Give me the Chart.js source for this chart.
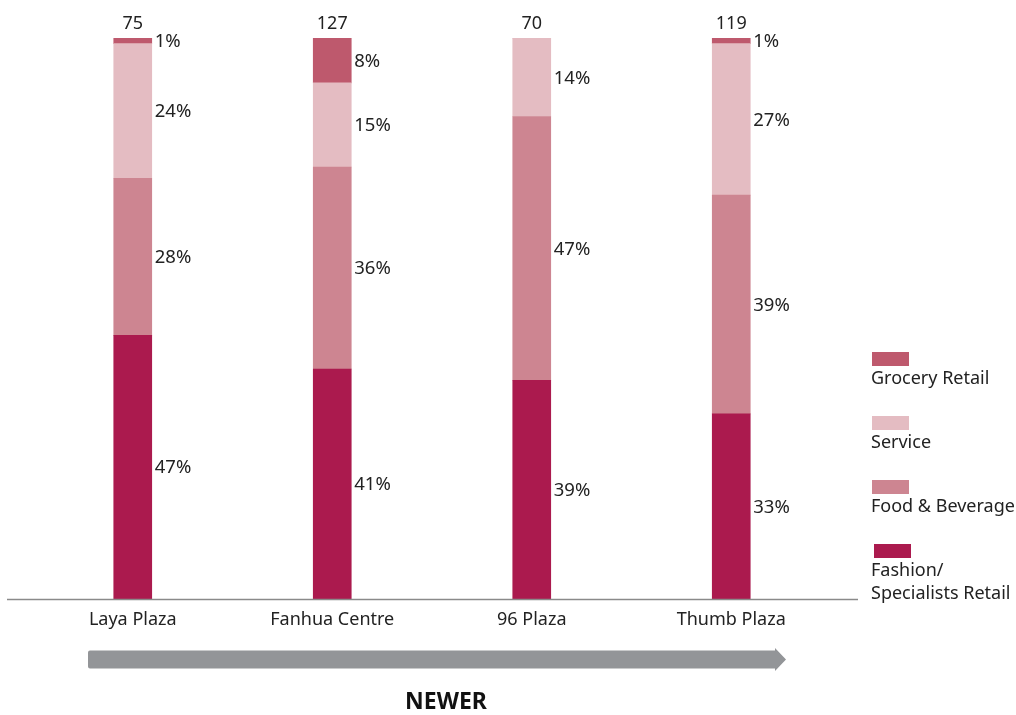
<!DOCTYPE html>
<html>
<head>
<meta charset="utf-8">
<script src="https://cdn.jsdelivr.net/npm/chart.js@4.4.1/dist/chart.umd.min.js"></script>
<style>
  html, body { margin: 0; padding: 0; background: #fff; }
  #wrap { width: 1016px; height: 715px; }
</style>
</head>
<body>
<div id="wrap"><canvas id="myChart-Mix"></canvas></div>
<script>
const malls = ['Laya Plaza', 'Fanhua Centre', '96 Plaza', 'Thumb Plaza'];
const totals = [75, 127, 70, 119];
const fashion = [47, 41, 39, 33];
const foodBev = [28, 36, 47, 39];
const service = [24, 15, 14, 27];
const grocery = [1, 8, 0, 1];

const FONT = '"Noto Sans", "Open Sans", sans-serif';
const TEXT = '#222';

// labels, totals, axis line, arrow and legend
const annotate = {
  id: 'annotate',
  afterDatasetsDraw(chart) {
    const ctx = chart.ctx;
    const x = chart.scales.x;
    const area = chart.chartArea;
    ctx.save();
    ctx.font = '18.5px ' + FONT;
    ctx.fillStyle = TEXT;
    ctx.textBaseline = 'middle';

    // segment percentages
    chart.data.datasets.forEach((ds, i) => {
      const meta = chart.getDatasetMeta(i);
      meta.data.forEach((bar, j) => {
        const v = ds.data[j];
        if (!v) return;
        const yMid = (bar.y + bar.base) / 2;
        ctx.textAlign = 'left';
        ctx.fillText(v + '%', bar.x + bar.width / 2 + 3, yMid + 1);
      });
    });

    // totals on top
    ctx.font = '18px ' + FONT;
    const topMeta = chart.getDatasetMeta(chart.data.datasets.length - 1);
    topMeta.data.forEach((bar, j) => {
      ctx.textAlign = 'center';
      ctx.textBaseline = 'alphabetic';
      ctx.fillText(String(totals[j]), bar.x, area.top - 9);
    });

    // category labels
    ctx.textBaseline = 'middle';
    ctx.textAlign = 'center';
    malls.forEach((m, j) => {
      ctx.fillText(m, x.getPixelForTick(j), area.bottom + 21);
    });

    // baseline
    ctx.strokeStyle = '#8a8a8a';
    ctx.lineWidth = 1.5;
    ctx.beginPath();
    ctx.moveTo(7, area.bottom + 0.5);
    ctx.lineTo(858, area.bottom + 0.5);
    ctx.stroke();

    // NEWER arrow
    const ay = 659.5, half = 9;
    ctx.fillStyle = '#939598';
    ctx.beginPath();
    ctx.moveTo(90, ay - half);
    ctx.lineTo(775, ay - half);
    ctx.lineTo(775, ay - half - 2.5);
    ctx.lineTo(786, ay);
    ctx.lineTo(775, ay + half + 2.5);
    ctx.lineTo(775, ay + half);
    ctx.lineTo(90, ay + half);
    ctx.quadraticCurveTo(88, ay + half, 88, ay + half - 2);
    ctx.lineTo(88, ay - half + 2);
    ctx.quadraticCurveTo(88, ay - half, 90, ay - half);
    ctx.fill();

    ctx.fillStyle = '#111';
    ctx.font = 'bold 23px ' + FONT;
    ctx.textAlign = 'center';
    ctx.fillText('NEWER', 446, 702);

    // legend
    ctx.font = '18px ' + FONT;
    ctx.textAlign = 'left';
    const items = [
      { label: ['Grocery Retail'], color: chart.data.datasets[3].backgroundColor, y: 352, dx: 0 },
      { label: ['Service'], color: chart.data.datasets[2].backgroundColor, y: 416, dx: 0 },
      { label: ['Food & Beverage'], color: chart.data.datasets[1].backgroundColor, y: 480, dx: 0 },
      { label: ['Fashion/', 'Specialists Retail'], color: chart.data.datasets[0].backgroundColor, y: 544, dx: 2 }
    ];
    items.forEach(it => {
      ctx.fillStyle = it.color;
      ctx.fillRect(872 + it.dx, it.y, 37, 14);
      ctx.fillStyle = TEXT;
      it.label.forEach((line, k) => {
        ctx.fillText(line, 871, it.y + 27 + k * 23);
      });
    });
    ctx.restore();
  }
};

new Chart(document.getElementById('myChart-Mix'), {
  type: 'bar',
  data: {
    labels: malls,
    datasets: [
      { label: 'Fashion/ Specialists Retail', data: fashion, backgroundColor: '#ab1a4e' },
      { label: 'Food & Beverage', data: foodBev, backgroundColor: '#cd8591' },
      { label: 'Service', data: service, backgroundColor: '#e4bcc2' },
      { label: 'Grocery Retail', data: grocery, backgroundColor: '#be596d' }
    ]
  },
  options: {
    responsive: true,
    maintainAspectRatio: false,
    animation: false,
    layout: {
      padding: { left: 33, right: 185, top: 38, bottom: 116 }
    },
    datasets: {
      bar: { barThickness: 38 }
    },
    scales: {
      x: { stacked: true, display: false },
      y: { stacked: true, display: false, min: 0, max: 100 }
    },
    plugins: {
      legend: { display: false },
      tooltip: { enabled: false }
    }
  },
  plugins: [annotate]
});
</script>
</body>
</html>
